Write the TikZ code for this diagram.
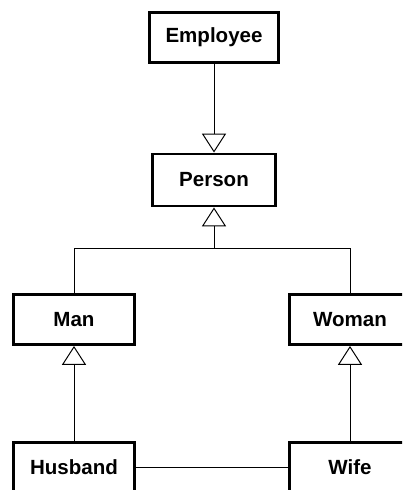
\documentclass[tikz,border=0pt]{standalone}
\usepackage{fontspec}
\setmainfont{Liberation Sans}
\usetikzlibrary{arrows.meta}

\begin{document}
\begin{tikzpicture}[x=0.025cm,y=-0.025cm]
\path[use as bounding box] (0,0) rectangle (402,490);
\clip (0,0) rectangle (402,490);
 \tikzstyle{cls}=[draw, line width=2.1pt, inner sep=0pt, minimum height=1.25cm, font=\fontsize{14.6}{17}\selectfont\bfseries]
 \tikzstyle{gen}=[-{Triangle[open, length=0.47cm, width=0.6cm]}]
\node[cls, minimum width=3.22cm](employee) at (214,37.5){Employee};
\node[cls, minimum width=3.07cm, minimum height=1.3cm](person) at (214,180){Person};
\node[cls, minimum width=3.02cm](man) at (74,319.5){Man};
\node[cls, minimum width=3.02cm](woman) at (350,319.5){Woman};
\node[cls, minimum width=3.02cm](husband) at (74,467.5){Husband};
\node[cls, minimum width=3.02cm](wife) at (350,467.5){Wife};
\coordinate (join) at (214,248);
 \draw[line width=0.7pt] (man.north) |- (join);
 \draw[line width=0.7pt] (woman.north) |- (join);
 \draw[line width=0.7pt] (husband) -- (wife);
 \foreach \i/\j in {employee/person,join/person,husband/man,wife/woman}{\draw[gen, line width=0.7pt] (\i) -- (\j);}
\end{tikzpicture}
\end{document}
